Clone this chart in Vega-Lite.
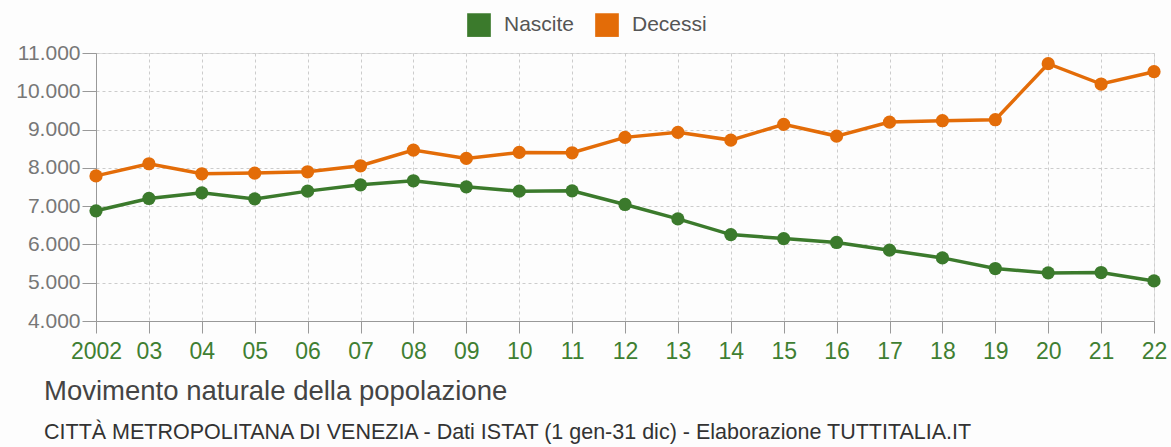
{
  "$schema": "https://vega.github.io/schema/vega-lite/v6.json",
  "width": 1058,
  "height": 268,
  "autosize": {"type": "none"},
  "padding": {"left": 96, "top": 53, "right": 17, "bottom": 126},
  "background": "#fdfdfd",
  "title": {
    "text": "Movimento naturale della popolazione",
    "subtitle": "CITTÀ METROPOLITANA DI VENEZIA - Dati ISTAT (1 gen-31 dic) - Elaborazione TUTTITALIA.IT",
    "orient": "bottom",
    "anchor": "start",
    "frame": "group",
    "dx": -52,
    "offset": 15,
    "font": "Liberation Sans",
    "fontSize": 27.5,
    "fontWeight": "normal",
    "color": "#444444",
    "subtitleFont": "Liberation Sans",
    "subtitleFontSize": 21.5,
    "subtitleColor": "#333333",
    "subtitlePadding": 16
  },
  "data": {"values": [
    {"year": 2002, "type": "Nascite", "value": 6878},
    {"year": 2003, "type": "Nascite", "value": 7200},
    {"year": 2004, "type": "Nascite", "value": 7348},
    {"year": 2005, "type": "Nascite", "value": 7190},
    {"year": 2006, "type": "Nascite", "value": 7392},
    {"year": 2007, "type": "Nascite", "value": 7557},
    {"year": 2008, "type": "Nascite", "value": 7662},
    {"year": 2009, "type": "Nascite", "value": 7505},
    {"year": 2010, "type": "Nascite", "value": 7392},
    {"year": 2011, "type": "Nascite", "value": 7400},
    {"year": 2012, "type": "Nascite", "value": 7044},
    {"year": 2013, "type": "Nascite", "value": 6667},
    {"year": 2014, "type": "Nascite", "value": 6257},
    {"year": 2015, "type": "Nascite", "value": 6152},
    {"year": 2016, "type": "Nascite", "value": 6051},
    {"year": 2017, "type": "Nascite", "value": 5850},
    {"year": 2018, "type": "Nascite", "value": 5648},
    {"year": 2019, "type": "Nascite", "value": 5370},
    {"year": 2020, "type": "Nascite", "value": 5257},
    {"year": 2021, "type": "Nascite", "value": 5266},
    {"year": 2022, "type": "Nascite", "value": 5047},
    {"year": 2002, "type": "Decessi", "value": 7790},
    {"year": 2003, "type": "Decessi", "value": 8107},
    {"year": 2004, "type": "Decessi", "value": 7845},
    {"year": 2005, "type": "Decessi", "value": 7863},
    {"year": 2006, "type": "Decessi", "value": 7897},
    {"year": 2007, "type": "Decessi", "value": 8054},
    {"year": 2008, "type": "Decessi", "value": 8464},
    {"year": 2009, "type": "Decessi", "value": 8247},
    {"year": 2010, "type": "Decessi", "value": 8404},
    {"year": 2011, "type": "Decessi", "value": 8394},
    {"year": 2012, "type": "Decessi", "value": 8796},
    {"year": 2013, "type": "Decessi", "value": 8927},
    {"year": 2014, "type": "Decessi", "value": 8725},
    {"year": 2015, "type": "Decessi", "value": 9136},
    {"year": 2016, "type": "Decessi", "value": 8830},
    {"year": 2017, "type": "Decessi", "value": 9196},
    {"year": 2018, "type": "Decessi", "value": 9231},
    {"year": 2019, "type": "Decessi", "value": 9257},
    {"year": 2020, "type": "Decessi", "value": 10721},
    {"year": 2021, "type": "Decessi", "value": 10190},
    {"year": 2022, "type": "Decessi", "value": 10512}
  ]},
  "encoding": {
    "x": {
      "field": "year", "type": "quantitative",
      "scale": {"domain": [2002, 2022], "nice": false, "zero": false},
      "axis": {
        "title": null,
        "values": [2002,2003,2004,2005,2006,2007,2008,2009,2010,2011,2012,2013,2014,2015,2016,2017,2018,2019,2020,2021,2022],
        "labelExpr": "datum.value == 2002 ? '2002' : slice(toString(datum.value), 2)",
        "labelFont": "Liberation Sans",
        "labelFontSize": 23,
        "labelColor": "#3f7f32",
        "labelPadding": 7,
        "labelFlush": false,
        "labelOverlap": false,
        "tickSize": 12,
        "tickColor": "#999999",
        "domainColor": "#999999",
        "grid": true,
        "gridColor": "#cccccc",
        "gridDash": [3, 3]
      }
    },
    "y": {
      "field": "value", "type": "quantitative",
      "scale": {"domain": [4000, 11000], "nice": false, "zero": false},
      "axis": {
        "title": null,
        "values": [4000,5000,6000,7000,8000,9000,10000,11000],
        "labelExpr": "replace(format(datum.value, ','), ',', '.')",
        "labelFont": "Liberation Sans",
        "labelFontSize": 21,
        "labelColor": "#777777",
        "labelPadding": 2,
        "tickSize": 14,
        "tickColor": "#999999",
        "domainColor": "#999999",
        "grid": true,
        "gridColor": "#cccccc",
        "gridDash": [3, 3]
      }
    },
    "color": {
      "field": "type", "type": "nominal",
      "scale": {"domain": ["Nascite", "Decessi"], "range": ["#3b7a2c", "#e36c08"]},
      "legend": {
        "title": null,
        "orient": "none",
        "direction": "horizontal",
        "legendX": 371,
        "legendY": -40,
        "symbolType": "square",
        "symbolSize": 560,
        "symbolStrokeWidth": 0,
        "symbolOpacity": 1,
        "labelFont": "Liberation Sans",
        "labelFontSize": 21,
        "labelColor": "#555555",
        "labelOffset": 13,
        "columnPadding": 20
      }
    }
  },
  "layer": [
    {"mark": {"type": "line", "strokeWidth": 3.5}},
    {"mark": {"type": "point", "filled": true, "size": 175, "opacity": 1}}
  ]
}
